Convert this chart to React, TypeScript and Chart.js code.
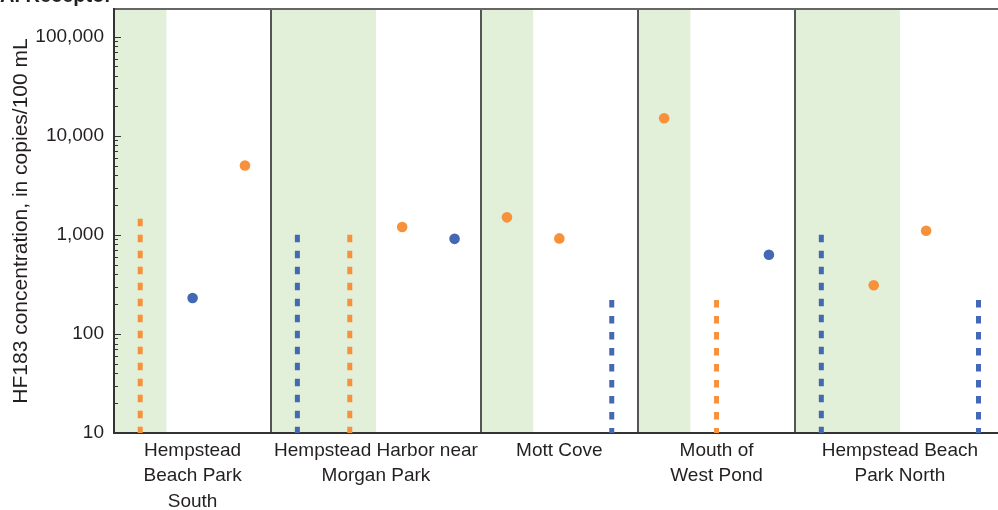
import React, { useEffect, useRef } from 'react';
import { Chart, registerables } from 'chart.js';

Chart.register(...registerables);

// ---- data ----
const siteLabels: string[][] = [
  ['Hempstead', 'Beach Park', 'South'],
  ['Hempstead Harbor near', 'Morgan Park'],
  ['Mott Cove'],
  ['Mouth of', 'West Pond'],
  ['Hempstead Beach', 'Park North'],
];
const slotsPerSite = [3, 4, 3, 3, 4];
const shadedSlotsPerSite = [1, 2, 1, 1, 2];

const orangeDotSlots = [2, 5, 7, 8, 10, 14, 15];
const orangeDotValues = [5000, 1200, 1500, 920, 15000, 310, 1100];
const blueDotSlots = [1, 6, 12];
const blueDotValues = [230, 910, 630];

const orangeDashSlots = [0, 4, 11];
const orangeDashValues = [1450, 1000, 220];
const blueDashSlots = [3, 9, 13, 16];
const blueDashValues = [1000, 220, 1000, 220];

const yMin = 10;
const yMax = 190000;
const yDecades = [10, 100, 1000, 10000, 100000];
const minorMultiples = [1, 2, 3, 4, 5, 6, 7, 8, 9];

const yTitle = 'HF183 concentration, in copies/100 mL';
const chartTitle = 'A. Receptor';

// ---- style ----
const ORANGE = '#F7923A';
const BLUE = '#4468B4';
const GREEN = '#E2EFD9';
const TEXT = '#231F20';
const REGULAR = "'Liberation Sans', Arial, sans-serif";

const siteStarts: number[] = [];
{
  let acc = 0;
  for (const n of slotsPerSite) {
    siteStarts.push(acc);
    acc += n;
  }
}
const totalSlots = slotsPerSite.reduce((a, b) => a + b, 0);
const siteCenters = siteStarts.map((s, i) => s + slotsPerSite[i] / 2);
const siteBoundaries = [...siteStarts, totalSlots];

const shadePlugin = {
  id: 'shade',
  beforeDraw(chart: any) {
    const x = chart.scales.x;
    const { top, bottom } = chart.chartArea;
    const ctx = chart.ctx;
    ctx.save();
    ctx.fillStyle = GREEN;
    siteStarts.forEach((s, i) => {
      const x0 = x.getPixelForValue(s);
      const x1 = x.getPixelForValue(s + shadedSlotsPerSite[i]);
      ctx.fillRect(x0, top, x1 - x0, bottom - top);
    });
    ctx.restore();
  },
};

const isPow10 = (v: number) => Math.abs(Math.log10(v) - Math.round(Math.log10(v))) < 1e-9;

const innerTickPlugin = {
  id: 'innerTicks',
  afterDraw(chart: any) {
    const y = chart.scales.y;
    const left = chart.chartArea.left;
    const ctx = chart.ctx;
    ctx.save();
    ctx.strokeStyle = '#333';
    ctx.lineWidth = 1;
    y.ticks.forEach((t: any) => {
      const py = Math.round(y.getPixelForValue(t.value)) + 0.5;
      const len = isPow10(t.value) ? 7 : 4;
      ctx.beginPath();
      ctx.moveTo(left, py);
      ctx.lineTo(left + len, py);
      ctx.stroke();
    });
    ctx.restore();
  },
};

export default function App() {
  const ref = useRef<HTMLCanvasElement | null>(null);

  useEffect(() => {
    if (!ref.current) return;
    const pt = (s: number, v: number) => ({ x: s + 0.5, y: v });
    const dash = (slots: number[], values: number[], color: string) =>
      slots.map((s, i) => ({
        type: 'scatter' as const,
        data: [pt(s, values[i]), pt(s, yMin)],
        showLine: true,
        borderColor: color,
        backgroundColor: color,
        borderWidth: 5,
        borderDash: [7.5, 8.5],
        borderCapStyle: 'butt',
        pointRadius: 0,
        xAxisID: 'x',
        yAxisID: 'y',
      }));
    const dots = (slots: number[], values: number[], color: string) => ({
      type: 'scatter' as const,
      data: slots.map((s, i) => pt(s, values[i])),
      showLine: false,
      pointRadius: 5.3,
      pointBorderWidth: 0,
      backgroundColor: color,
      borderColor: color,
      xAxisID: 'x',
      yAxisID: 'y',
    });

    const chart = new Chart(ref.current, {
      type: 'scatter',
      data: {
        datasets: [
          ...dash(orangeDashSlots, orangeDashValues, ORANGE),
          ...dash(blueDashSlots, blueDashValues, BLUE),
          dots(orangeDotSlots, orangeDotValues, ORANGE),
          dots(blueDotSlots, blueDotValues, BLUE),
        ] as any,
      },
      options: {
        responsive: false,
        animation: false,
        events: [],
        layout: { padding: 0 },
        plugins: {
          legend: { display: false },
          tooltip: { enabled: false },
          title: {
            display: true,
            text: chartTitle,
            align: 'start',
            color: TEXT,
            font: { family: REGULAR, size: 20, weight: 'bold' },
            padding: { top: 0, bottom: 1 },
          },
        },
        scales: {
          x: {
            type: 'linear',
            position: 'bottom',
            min: 0,
            max: totalSlots,
            grid: { display: false, drawTicks: false },
            border: { display: true, color: '#333', width: 2 },
            afterBuildTicks: (s: any) => {
              s.ticks = siteCenters.map((v) => ({ value: v }));
            },
            afterFit: (s: any) => {
              s.height = 80;
            },
            ticks: {
              autoSkip: false,
              maxRotation: 0,
              minRotation: 0,
              padding: 5,
              color: TEXT,
              font: { family: REGULAR, size: 19, lineHeight: '25.5px' },
              callback: (_v: any, i: number) => siteLabels[i],
            },
          },
          xSep: {
            type: 'linear',
            position: 'top',
            min: 0,
            max: totalSlots,
            grid: { display: true, drawTicks: false, color: '#555', lineWidth: 2 },
            border: { display: true, color: '#666', width: 2 },
            ticks: { display: false },
            afterBuildTicks: (s: any) => {
              s.ticks = siteBoundaries.map((v) => ({ value: v }));
            },
            afterFit: (s: any) => {
              s.height = 0;
            },
          },
          y: {
            type: 'logarithmic',
            min: yMin,
            max: yMax,
            grid: { display: false, drawTicks: false },
            border: { display: true, color: '#333', width: 2 },
            afterBuildTicks: (s: any) => {
              const t: any[] = [];
              yDecades.forEach((d) => {
                minorMultiples.forEach((m) => {
                  const v = d * m;
                  if (v >= yMin && v <= yMax && (d !== yDecades[yDecades.length - 1] || m === 1)) t.push({ value: v });
                });
              });
              s.ticks = t;
            },
            afterFit: (s: any) => {
              s.width = 114;
            },
            ticks: {
              autoSkip: false,
              padding: 10,
              color: TEXT,
              font: { family: REGULAR, size: 19 },
              callback: (v: any) => (isPow10(Number(v)) ? Number(v).toLocaleString('en-US') : ''),
            },
            title: {
              display: true,
              text: yTitle,
              color: TEXT,
              font: { family: REGULAR, size: 21 },
              padding: { top: 9, bottom: 11 },
            },
          },
        },
      } as any,
      plugins: [shadePlugin, innerTickPlugin],
    });
    return () => chart.destroy();
  }, []);

  return (
    <div
      style={{
        position: 'fixed',
        left: 0,
        top: 0,
        width: 998,
        height: 510,
        overflow: 'hidden',
        background: '#fff',
      }}
    >
      <canvas
        ref={ref}
        width={1010}
        height={529}
        style={{ position: 'absolute', left: 0, top: -16, display: 'block' }}
      />
    </div>
  );
}
